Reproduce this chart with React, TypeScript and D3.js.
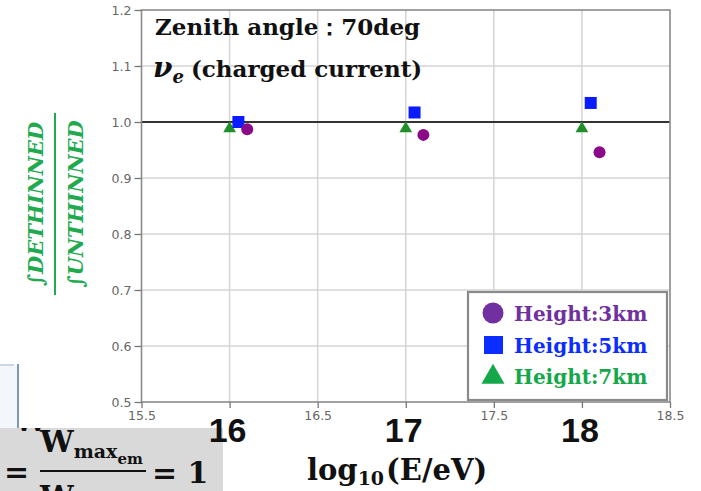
import React, { useEffect, useRef } from 'react';
import * as d3 from 'd3';

// values
const x3km = [16.1, 17.1, 18.1];
const y3km = [0.987, 0.977, 0.946];
const x5km = [16.05, 17.05, 18.05];
const y5km = [1.0, 1.017, 1.034];
const x7km = [16.0, 17.0, 18.0];
const y7km = [0.99, 0.99, 0.99];

const xTicks = [15.5, 16, 16.5, 17, 17.5, 18, 18.5];
const yTicks = [0.5, 0.6, 0.7, 0.8, 0.9, 1.0, 1.1, 1.2];
const bigTicks = [16, 17, 18];
const legendLabels = ['Height:3km', 'Height:5km', 'Height:7km'];

const serif = '"DejaVu Serif", serif';
const sans = '"DejaVu Sans", sans-serif';

const App = () => {
    const ref = useRef<SVGSVGElement>(null);

    useEffect(() => {
        const width = 701;
        const height = 491;
        const margin = { top: 10, right: 31, bottom: 89, left: 141.5 };

        const x = d3.scaleLinear()
            .domain([15.5, 18.5])
            .range([margin.left, width - margin.right]);

        const y = d3.scaleLinear()
            .domain([0.5, 1.2])
            .range([height - margin.bottom, margin.top]);

        const svg = d3.select(ref.current);
        svg.selectAll('*').remove();
        svg.attr('width', width).attr('height', height);

        svg.append('rect').attr('width', width).attr('height', height).attr('fill', '#fff');

        // grid
        svg.append('g')
            .selectAll('line')
            .data(xTicks.slice(1, -1))
            .join('line')
            .attr('x1', d => x(d)).attr('x2', d => x(d))
            .attr('y1', y(1.2)).attr('y2', y(0.5))
            .attr('stroke', '#d4d4d4').attr('stroke-width', 1.5);
        svg.append('g')
            .selectAll('line')
            .data(yTicks.slice(1, -1))
            .join('line')
            .attr('x1', x(15.5)).attr('x2', x(18.5))
            .attr('y1', d => y(d)).attr('y2', d => y(d))
            .attr('stroke', '#d4d4d4').attr('stroke-width', 1.5);

        // reference line at 1.0
        svg.append('line')
            .attr('x1', x(15.5)).attr('x2', x(18.5))
            .attr('y1', y(1)).attr('y2', y(1))
            .attr('stroke', '#333').attr('stroke-width', 2.2);

        // frame
        svg.append('rect')
            .attr('x', x(15.5)).attr('y', y(1.2))
            .attr('width', x(18.5) - x(15.5)).attr('height', y(0.5) - y(1.2))
            .attr('fill', 'none').attr('stroke', '#8a8a8a').attr('stroke-width', 1.6);

        // axes
        const yAxis = svg.append('g')
            .attr('transform', `translate(${margin.left},0)`)
            .call(d3.axisLeft(y).tickValues(yTicks).tickFormat(d3.format('.1f')).tickSize(7).tickPadding(3));
        const xAxis = svg.append('g')
            .attr('transform', `translate(0,${height - margin.bottom})`)
            .call(d3.axisBottom(x).tickValues(xTicks).tickFormat(d => (Number.isInteger(d) ? '' : String(d))).tickSize(6).tickPadding(3));
        [xAxis, yAxis].forEach(g => {
            g.select('.domain').remove();
            g.selectAll('line').attr('stroke', '#777').attr('stroke-width', 1.3);
            g.selectAll('text').attr('fill', '#666').attr('font-family', sans).attr('font-size', 12.5);
        });

        // x title
        const xt = svg.append('text')
            .attr('x', 307).attr('y', 480)
            .attr('font-family', serif).attr('font-weight', 'bold')
            .attr('font-size', 29).attr('fill', '#111');
        xt.append('tspan').text('log');
        xt.append('tspan').attr('font-size', 19).attr('dy', 5).text('10');
        xt.append('tspan').attr('dy', -5).attr('dx', 2).text('(E/eV)');

        // y title (green fraction)
        const yl = svg.append('g').attr('transform', 'translate(55,204) rotate(-90)');
        yl.append('line').attr('x1', -91).attr('x2', 91).attr('y1', 0).attr('y2', 0)
            .attr('stroke', '#1faa50').attr('stroke-width', 2);
        yl.append('text').attr('x', 0).attr('y', -12).attr('text-anchor', 'middle')
            .attr('font-family', serif).attr('font-weight', 'bold').attr('font-style', 'italic')
            .attr('font-size', 21).attr('fill', '#1faa50').text('∫DETHINNED');
        yl.append('text').attr('x', 0).attr('y', 28).attr('text-anchor', 'middle')
            .attr('font-family', serif).attr('font-weight', 'bold').attr('font-style', 'italic')
            .attr('font-size', 21).attr('fill', '#1faa50').text('∫UNTHINNED');

        // annotation
        svg.append('text')
            .attr('x', 155).attr('y', 35)
            .attr('font-family', serif).attr('font-weight', 'bold')
            .attr('font-size', 23).attr('fill', '#111')
            .text('Zenith angle：70deg');
        const t2 = svg.append('text')
            .attr('x', 153).attr('y', 77)
            .attr('font-family', serif).attr('font-weight', 'bold')
            .attr('font-size', 23).attr('fill', '#111');
        t2.append('tspan').attr('font-style', 'italic').attr('font-size', 28).text('ν');
        t2.append('tspan').attr('font-style', 'italic').attr('font-size', 18).attr('dy', 6).text('e');
        t2.append('tspan').attr('dy', -6).attr('dx', 7).text('(charged current)');

        // markers
        const tri = d3.symbol().type(d3.symbolTriangle);
        svg.append('g')
            .selectAll('path')
            .data(x7km.map((d, i) => [d, y7km[i]]))
            .join('path')
            .attr('d', tri.size(70)())
            .attr('transform', d => `translate(${x(d[0])},${y(d[1]) + 1})`)
            .attr('fill', '#1f8f2a');
        svg.append('g')
            .selectAll('rect')
            .data(x5km.map((d, i) => [d, y5km[i]]))
            .join('rect')
            .attr('x', d => x(d[0]) - 6).attr('y', d => y(d[1]) - 6)
            .attr('width', 12).attr('height', 12)
            .attr('fill', '#0a1cff');
        svg.append('g')
            .selectAll('circle')
            .data(x3km.map((d, i) => [d, y3km[i]]))
            .join('circle')
            .attr('cx', d => x(d[0])).attr('cy', d => y(d[1]))
            .attr('r', 6)
            .attr('fill', '#8a0a8a');

        // legend
        const lg = svg.append('g');
        lg.append('rect')
            .attr('x', 468).attr('y', 292).attr('width', 199).attr('height', 108)
            .attr('fill', '#fff').attr('stroke', '#8a8a8a').attr('stroke-width', 2.2);
        const colors = ['#7030a0', '#0b2dff', '#14a84a'];
        const rowY = [313, 345, 376];
        lg.append('circle').attr('cx', 493).attr('cy', rowY[0]).attr('r', 10.5).attr('fill', colors[0]);
        lg.append('rect').attr('x', 484).attr('y', rowY[1] - 9).attr('width', 19).attr('height', 18).attr('fill', colors[1]);
        lg.append('path').attr('d', d3.symbol().type(d3.symbolTriangle).size(230)())
            .attr('transform', `translate(493,${rowY[2] + 1})`).attr('fill', colors[2]);
        lg.selectAll('text.lab')
            .data(legendLabels)
            .join('text')
            .attr('class', 'lab')
            .attr('x', 514).attr('y', (d, i) => rowY[i] + 8)
            .attr('font-family', serif).attr('font-weight', 'bold')
            .attr('font-size', 20)
            .attr('fill', (d, i) => colors[i])
            .text(d => d);

        // slide fragments around the chart
        svg.append('rect').attr('x', 0).attr('y', 365).attr('width', 18).attr('height', 63).attr('fill', '#f3f7fb');
        svg.append('line').attr('x1', 0).attr('x2', 14).attr('y1', 365).attr('y2', 365).attr('stroke', '#c9d6e8').attr('stroke-width', 2);
        svg.append('line').attr('x1', 18).attr('x2', 18).attr('y1', 364).attr('y2', 428).attr('stroke', '#7d99bd').attr('stroke-width', 2);

        const box = svg.append('g');
        box.append('clipPath').attr('id', 'boxclip')
            .append('rect').attr('x', 0).attr('y', 428).attr('width', 223).attr('height', 63);
        box.append('rect').attr('x', 0).attr('y', 428).attr('width', 223).attr('height', 63).attr('fill', '#d9d9d9');
        const inner = box.append('g').attr('clip-path', 'url(#boxclip)')
            .attr('font-family', serif).attr('font-weight', 'bold').attr('fill', '#111');
        inner.append('text').attr('x', 14).attr('y', 431).attr('font-size', 30).text('W');
        inner.append('text').attr('x', 4).attr('y', 482).attr('font-size', 30).text('=');
        const num = inner.append('text').attr('x', 40).attr('y', 452).attr('font-size', 30);
        num.append('tspan').text('W');
        num.append('tspan').attr('font-size', 19).attr('dy', 6).text('max');
        num.append('tspan').attr('font-size', 15).attr('dy', 6).text('em');
        inner.append('line').attr('x1', 40).attr('x2', 146).attr('y1', 471).attr('y2', 471)
            .attr('stroke', '#111').attr('stroke-width', 2.2);
        inner.append('text').attr('x', 40).attr('y', 507).attr('font-size', 30).text('W');
        inner.append('text').attr('x', 152).attr('y', 483).attr('font-size', 30).text('= 1');

        // big integer labels, drawn over the grey box
        svg.append('g')
            .selectAll('text')
            .data(bigTicks)
            .join('text')
            .attr('x', d => x(d) - 2)
            .attr('y', 442)
            .attr('text-anchor', 'middle')
            .attr('font-family', '"Liberation Sans", sans-serif')
            .attr('font-weight', 'bold')
            .attr('font-size', 34)
            .attr('fill', '#111')
            .text(d => d);
    }, []);

    return (
        <svg ref={ref} style={{ position: 'absolute', left: 0, top: 0, display: 'block' }} />
    );
};

export default App;
